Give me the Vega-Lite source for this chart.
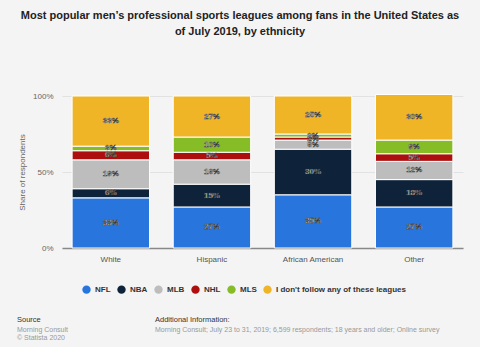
{
  "$schema": "https://vega.github.io/schema/vega-lite/v6.json",
  "background": "#f4f4f4",
  "padding": {"left": 17, "top": 10, "right": 18, "bottom": 5},
  "config": {"font": "Liberation Sans", "view": {"stroke": null}},
  "title": {
    "text": ["Most popular men’s professional sports leagues among fans in the United States as", "of July 2019, by ethnicity"],
    "fontSize": 11, "fontWeight": "bold", "color": "#222", "anchor": "middle", "lineHeight": 16, "offset": 55, "frame": "bounds"
  },
  "datasets": {
    "survey": [
      {"ethnicity": "White", "league": "NFL", "share": 33},
      {"ethnicity": "White", "league": "NBA", "share": 6},
      {"ethnicity": "White", "league": "MLB", "share": 19},
      {"ethnicity": "White", "league": "NHL", "share": 6},
      {"ethnicity": "White", "league": "MLS", "share": 3},
      {"ethnicity": "White", "league": "I don't follow any of these leagues", "share": 33},
      {"ethnicity": "Hispanic", "league": "NFL", "share": 27},
      {"ethnicity": "Hispanic", "league": "NBA", "share": 15},
      {"ethnicity": "Hispanic", "league": "MLB", "share": 16},
      {"ethnicity": "Hispanic", "league": "NHL", "share": 5},
      {"ethnicity": "Hispanic", "league": "MLS", "share": 10},
      {"ethnicity": "Hispanic", "league": "I don't follow any of these leagues", "share": 27},
      {"ethnicity": "African American", "league": "NFL", "share": 35},
      {"ethnicity": "African American", "league": "NBA", "share": 30},
      {"ethnicity": "African American", "league": "MLB", "share": 6},
      {"ethnicity": "African American", "league": "NHL", "share": 2},
      {"ethnicity": "African American", "league": "MLS", "share": 2},
      {"ethnicity": "African American", "league": "I don't follow any of these leagues", "share": 25},
      {"ethnicity": "Other", "league": "NFL", "share": 27},
      {"ethnicity": "Other", "league": "NBA", "share": 18},
      {"ethnicity": "Other", "league": "MLB", "share": 12},
      {"ethnicity": "Other", "league": "NHL", "share": 5},
      {"ethnicity": "Other", "league": "MLS", "share": 9},
      {"ethnicity": "Other", "league": "I don't follow any of these leagues", "share": 30}
    ]
  },
  "resolve": {"legend": {"color": "independent"}},
  "vconcat": [
    {
      "width": 401,
      "height": 152,
      "data": {"name": "survey"},
      "transform": [
        {"calculate": "indexof(['NFL','NBA','MLB','NHL','MLS',\"I don't follow any of these leagues\"], datum.league)", "as": "rank"},
        {"stack": "share", "groupby": ["ethnicity"], "sort": [{"field": "rank"}], "as": ["lo", "hi"]},
        {"calculate": "(datum.lo + datum.hi) / 2", "as": "mid"},
        {"calculate": "datum.share + '%'", "as": "label"}
      ],
      "encoding": {
        "x": {
          "field": "ethnicity", "type": "nominal",
          "sort": ["White", "Hispanic", "African American", "Other"],
          "scale": {"paddingInner": 0.234, "paddingOuter": 0.1},
          "axis": {"title": null, "labelAngle": 0, "labelFontSize": 8, "labelColor": "#555", "domainColor": "#888", "domainWidth": 1.5, "ticks": false, "labelPadding": 7}
        }
      },
      "layer": [
        {
          "mark": {"type": "bar", "stroke": "#ffffff", "strokeWidth": 1},
          "encoding": {
            "y": {
              "field": "lo", "type": "quantitative",
              "scale": {"domain": [0, 100], "nice": false},
              "axis": {"values": [0, 25, 50, 75, 100], "labelExpr": "datum.value + '%'", "labelFontSize": 8, "labelColor": "#666", "gridColor": "#e2e2e2", "domain": false, "ticks": false, "labelPadding": 9, "title": "Share of respondents", "titleFontSize": 8, "titleFontWeight": "normal", "titleColor": "#666", "titlePadding": 6}
            },
            "y2": {"field": "hi"},
            "color": {
              "field": "league", "type": "nominal",
              "scale": {
                "domain": ["NFL", "NBA", "MLB", "NHL", "MLS", "I don't follow any of these leagues"],
                "range": ["#2876dd", "#0e2339", "#bdbdbd", "#ad0f0f", "#86bc25", "#efb526"]
              },
              "legend": {"title": null, "orient": "none", "legendX": 20, "legendY": 189, "direction": "horizontal", "symbolType": "circle", "symbolSize": 70, "symbolStrokeWidth": 0, "labelFontSize": 8, "labelFontWeight": "bold", "labelColor": "#333", "labelOffset": 4, "columnPadding": 6}
            }
          }
        },
        {
          "mark": {"type": "text", "fontSize": 8, "fontWeight": "bold", "fill": "#ffffff", "stroke": "#333", "strokeWidth": 0.5},
          "encoding": {
            "y": {"field": "mid", "type": "quantitative"},
            "text": {"field": "label", "type": "nominal"}
          }
        }
      ]
    },
    {
      "hconcat": [
        {
          "width": 74, "height": 1,
          "data": {"values": [{}]},
          "mark": {"type": "point", "opacity": 0},
          "title": {"text": "Source", "subtitle": ["Morning Consult", "© Statista 2020"], "orient": "bottom", "anchor": "start", "fontSize": 7.5, "fontWeight": "normal", "color": "#333", "subtitleFontSize": 7, "subtitleColor": "#999", "subtitlePadding": 2, "subtitleLineHeight": 8.5, "offset": 0, "dx": -45}
        },
        {
          "width": 308, "height": 1,
          "data": {"values": [{}]},
          "mark": {"type": "point", "opacity": 0},
          "title": {"text": "Additional Information:", "subtitle": ["Morning Consult; July 23 to 31, 2019; 6,599 respondents; 18 years and older; Online survey"], "orient": "bottom", "anchor": "start", "fontSize": 7.5, "fontWeight": "normal", "color": "#333", "subtitleFontSize": 7, "subtitleColor": "#999", "subtitlePadding": 2, "subtitleLineHeight": 8.5, "offset": 0}
        }
      ],
      "spacing": 19
    }
  ],
  "spacing": 16
}
